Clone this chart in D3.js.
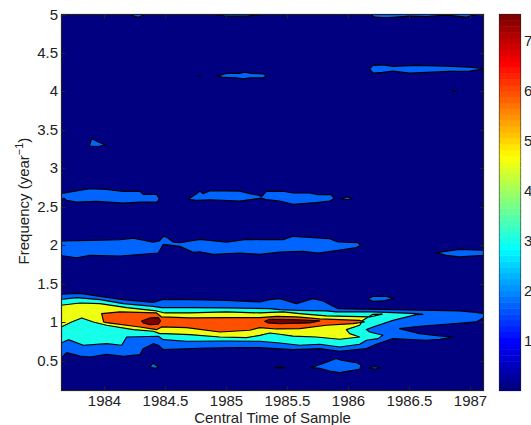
<!DOCTYPE html>
<html><head><meta charset="utf-8">
<script src="https://cdnjs.cloudflare.com/ajax/libs/d3/7.8.5/d3.min.js"></script>
<style>html,body{margin:0;padding:0;background:#fff}svg{display:block}text{font-family:"Liberation Sans",Arial,sans-serif;fill:#222}</style>
</head><body><svg id="c" width="531" height="425"></svg>
<script>
// Data: contour regions as [central time, frequency]
const xTicks=[1984,1984.5,1985,1985.5,1986,1986.5,1987];
const yTicks=[0.5,1,1.5,2,2.5,3,3.5,4,4.5,5];
const cTicks=[1,2,3,4,5,6,7];
const timeDomain=[1983.652,1987.11];
const freqDomain=[0.113,5];
const powerDomain=[0,7.51];
const contourLevels=[0,1.5,3,4.5,6,7.5];
const contourFills=["#000080","#0064ff","#15ffe9","#eeff11","#ff5000","#800000"];

const mainBand1=[[1983.64,1.363],[1983.804,1.376],[1983.967,1.337],[1984.158,1.294],[1984.404,1.259],[1984.486,1.298],[1984.704,1.294],[1985.004,1.285],[1985.222,1.268],[1985.277,1.264],[1985.358,1.294],[1985.44,1.307],[1985.577,1.242],[1985.713,1.307],[1985.795,1.277],[1985.918,1.177],[1986.368,1.164],[1986.913,1.147],[1987.05,1.129],[1987.12,1.11],[1987.12,1.07],[1987.05,1.004],[1986.804,0.974],[1986.586,0.948],[1986.422,0.917],[1986.586,0.852],[1986.75,0.822],[1986.859,0.809],[1986.75,0.779],[1986.641,0.766],[1986.368,0.787],[1986.231,0.714],[1986.15,0.657],[1985.931,0.623],[1985.768,0.657],[1985.549,0.644],[1985.277,0.67],[1985.113,0.67],[1984.84,0.666],[1984.486,0.644],[1984.445,0.701],[1984.404,0.722],[1984.322,0.657],[1984.295,0.579],[1984.158,0.558],[1984.022,0.584],[1983.886,0.549],[1983.804,0.562],[1983.694,0.605],[1983.64,0.528]];
const mainBand2=[[1983.64,1.294],[1983.776,1.32],[1983.967,1.294],[1984.158,1.242],[1984.404,1.207],[1984.472,1.19],[1984.704,1.19],[1985.004,1.186],[1985.359,1.177],[1985.44,1.164],[1985.604,1.155],[1985.822,1.147],[1985.904,1.134],[1986.204,1.134],[1986.422,1.121],[1986.559,1.112],[1986.613,1.103],[1986.559,1.099],[1986.368,1.025],[1986.204,0.939],[1986.15,0.904],[1986.177,0.874],[1986.286,0.831],[1986.245,0.787],[1986.15,0.766],[1986.095,0.714],[1985.931,0.679],[1985.768,0.714],[1985.604,0.701],[1985.44,0.731],[1985.277,0.753],[1985.004,0.757],[1984.677,0.753],[1984.486,0.774],[1984.445,0.818],[1984.186,0.809],[1984.145,0.701],[1984.022,0.722],[1983.831,0.701],[1983.708,0.774],[1983.64,0.722]];
const mainBand3=[[1983.64,1.22],[1983.804,1.25],[1983.967,1.242],[1984.186,1.19],[1984.431,1.147],[1984.499,1.121],[1984.704,1.121],[1985.004,1.134],[1985.277,1.121],[1985.468,1.134],[1985.604,1.112],[1985.822,1.082],[1986.177,1.069],[1986.28,1.106],[1986.204,1.103],[1986.122,1.025],[1986.095,0.961],[1985.986,0.904],[1986.013,0.852],[1986.095,0.809],[1985.931,0.779],[1985.74,0.809],[1985.549,0.82],[1985.44,0.844],[1985.359,0.86],[1985.277,0.83],[1985.168,0.8],[1984.949,0.809],[1984.704,0.839],[1984.499,0.852],[1984.458,0.852],[1984.404,0.883],[1984.24,0.904],[1984.022,0.961],[1983.913,1.004],[1983.817,1.056],[1983.735,1.004],[1983.64,0.93]];
const mainBand4=[[1983.981,1.112],[1984.131,1.134],[1984.431,1.121],[1984.472,1.069],[1984.704,1.056],[1985.004,1.06],[1985.277,1.06],[1985.413,1.077],[1985.577,1.069],[1985.768,1.043],[1986.095,1.025],[1986.136,1.004],[1986.04,0.982],[1985.822,0.961],[1985.604,0.917],[1985.413,0.913],[1985.277,0.93],[1985.195,0.896],[1984.949,0.874],[1984.677,0.93],[1984.472,0.939],[1984.431,0.904],[1984.295,0.939],[1984.022,0.995],[1983.997,1.004]];
const peakA=[[1984.308,1.017],[1984.377,1.056],[1984.445,1.06],[1984.464,1.017],[1984.445,0.974],[1984.377,0.969],[1984.322,0.991]];
const peakB=[[1985.317,1.012],[1985.358,1.038],[1985.549,1.034],[1985.768,1.017],[1985.686,0.991],[1985.44,0.982],[1985.345,0.991]];

const blobA=[[1983.88,3.29],[1983.899,3.385],[1983.954,3.342],[1984.008,3.307],[1983.954,3.285]];
const band26Left=[[1983.64,2.67],[1983.749,2.701],[1983.886,2.735],[1984.022,2.727],[1984.158,2.701],[1984.295,2.701],[1984.322,2.662],[1984.431,2.662],[1984.453,2.605],[1984.437,2.562],[1984.295,2.562],[1984.158,2.549],[1983.94,2.571],[1983.776,2.562],[1983.694,2.584],[1983.673,2.614],[1983.64,2.584]];
const band26Right=[[1984.69,2.597],[1984.759,2.67],[1984.786,2.705],[1984.813,2.67],[1984.868,2.709],[1985.113,2.705],[1985.195,2.67],[1985.263,2.653],[1985.29,2.631],[1985.331,2.702],[1985.468,2.702],[1985.549,2.68],[1985.686,2.68],[1985.754,2.658],[1985.863,2.658],[1985.885,2.606],[1985.849,2.576],[1985.74,2.554],[1985.549,2.533],[1985.44,2.576],[1985.331,2.593],[1985.29,2.614],[1985.113,2.575],[1984.868,2.592],[1984.759,2.584]];
const lens26=[[1985.94,2.606],[1985.991,2.628],[1986.035,2.606],[1985.991,2.593]];
const band2=[[1983.64,2.056],[1983.886,2.064],[1984.131,2.073],[1984.24,2.094],[1984.404,2.042],[1984.453,2.056],[1984.486,2.116],[1984.513,2.107],[1984.568,2.042],[1984.622,2.034],[1984.786,2.077],[1985.004,2.042],[1985.168,2.077],[1985.277,2.074],[1985.468,2.074],[1985.549,2.117],[1985.849,2.087],[1985.918,2.043],[1986.081,2.035],[1986.103,2.0],[1986.068,1.97],[1985.918,1.935],[1985.754,1.9],[1985.631,1.922],[1985.44,1.913],[1985.277,1.883],[1985.113,1.9],[1984.895,1.882],[1984.786,1.917],[1984.731,1.908],[1984.622,1.986],[1984.486,2.012],[1984.445,1.9],[1984.131,1.861],[1983.886,1.869],[1983.776,1.839],[1983.64,1.869]];
const band19Right=[[1986.722,1.905],[1986.913,1.948],[1987.12,1.935],[1987.12,1.87],[1986.913,1.849],[1986.804,1.87]];
const blob13=[[1986.163,1.298],[1986.204,1.337],[1986.314,1.337],[1986.368,1.307],[1986.286,1.277],[1986.204,1.272]];
const blob04=[[1985.7,0.411],[1985.795,0.463],[1985.904,0.528],[1985.945,0.506],[1986.068,0.476],[1986.109,0.441],[1986.095,0.389],[1985.931,0.346],[1985.85,0.367],[1985.768,0.402]];
const lens04a=[[1986.171,0.406],[1986.218,0.424],[1986.272,0.406],[1986.218,0.393]];
const lens04b=[[1985.4,0.411],[1985.44,0.419],[1985.481,0.411],[1985.44,0.402]];
const blob04c=[[1984.377,0.419],[1984.404,0.476],[1984.417,0.45],[1984.45,0.419],[1984.417,0.402]];
const band43=[[1986.177,4.294],[1986.204,4.338],[1986.286,4.346],[1986.368,4.325],[1986.559,4.338],[1986.804,4.329],[1986.995,4.316],[1987.12,4.294],[1986.995,4.264],[1986.831,4.26],[1986.504,4.238],[1986.368,4.264],[1986.286,4.247],[1986.204,4.238]];
const band42=[[1984.93,4.203],[1985.004,4.234],[1985.113,4.234],[1985.154,4.251],[1985.209,4.234],[1985.304,4.229],[1985.331,4.203],[1985.304,4.177],[1985.195,4.177],[1985.14,4.164],[1985.086,4.177],[1984.977,4.182]];
const topStripA=[[1984.186,5.01],[1984.281,4.965],[1984.349,5.01]];
const topStripB=[[1984.881,5.01],[1985.004,4.978],[1985.168,4.978],[1985.359,5.01]];
const topStripC=[[1986.177,5.01],[1986.218,4.965],[1986.314,4.957],[1986.504,4.978],[1986.641,4.974],[1986.804,4.992],[1986.968,4.965],[1987.023,4.992],[1987.099,5.01]];
const dotA=[[1984.77,4.203],[1984.78,4.212],[1984.79,4.203],[1984.78,4.194]];
const dotB=[[1986.853,4.004],[1986.87,4.01],[1986.886,4.004],[1986.87,3.998]];

const layers=[
 [1.5,[mainBand1,blobA,band26Left,band26Right,lens26,band2,band19Right,blob13,blob04,lens04a,lens04b,blob04c,band43,band42,topStripA,topStripB,topStripC,dotA,dotB]],
 [3,[mainBand2]],[4.5,[mainBand3]],[6,[mainBand4]],[7.5,[peakA,peakB]]
];

const plot={l:61.5,r:483.5,t:14.5,b:390.5};
const bar={l:499.5,r:520.5};
const x=d3.scaleLinear().domain(timeDomain).range([plot.l,plot.r]);
const y=d3.scaleLinear().domain(freqDomain).range([plot.b,plot.t]);
const cy=d3.scaleLinear().domain(powerDomain).range([plot.b,plot.t]);
const fillOf=d3.scaleOrdinal().domain(contourLevels).range(contourFills);
const jet=d3.scaleLinear()
 .domain([0,0.125,0.375,0.625,0.875,1].map(t=>t*powerDomain[1]))
 .range(["#000080","#0000ff","#00ffff","#ffff00","#ff0000","#800000"])
 .clamp(true);

const svg=d3.select("#c");
svg.append("defs").append("clipPath").attr("id","pc").append("rect")
 .attr("x",plot.l).attr("y",plot.t).attr("width",plot.r-plot.l).attr("height",plot.b-plot.t);
const g=svg.append("g").attr("clip-path","url(#pc)");
g.append("rect").attr("x",plot.l).attr("y",plot.t).attr("width",plot.r-plot.l).attr("height",plot.b-plot.t).attr("fill",fillOf(0));
const line=d3.line().x(d=>x(d[0])).y(d=>y(d[1])).curve(d3.curveLinearClosed);
layers.forEach(([lv,regions])=>{
 g.selectAll(null).data(regions).join("path").attr("d",line)
  .attr("fill",fillOf(lv)).attr("stroke","#000").attr("stroke-width",1.15).attr("stroke-linejoin","round");
});

// main axes
const fs=15;
const ax=svg.append("g");
function frame(l,r,t,b){ax.append("rect").attr("x",l).attr("y",t).attr("width",r-l).attr("height",b-t).attr("fill","none").attr("stroke","#222").attr("stroke-width",1.2);}
frame(plot.l,plot.r,plot.t,plot.b);
const tickLen=4;
function tick(x1,y1,x2,y2){ax.append("line").attr("x1",x1).attr("y1",y1).attr("x2",x2).attr("y2",y2).attr("stroke","#222").attr("stroke-width",1);}
xTicks.forEach(v=>{const p=Math.round(x(v))+.5;tick(p,plot.b,p,plot.b-tickLen);tick(p,plot.t,p,plot.t+tickLen);
 ax.append("text").attr("x",p).attr("y",406).attr("text-anchor","middle").attr("font-size",fs).text(v);});
yTicks.forEach(v=>{const p=Math.round(y(v))+.5;tick(plot.l,p,plot.l+tickLen,p);tick(plot.r,p,plot.r-tickLen,p);
 ax.append("text").attr("x",58).attr("y",p+4.5).attr("text-anchor","end").attr("font-size",fs).text(v);});
ax.append("text").attr("x",272.5).attr("y",423).attr("text-anchor","middle").attr("font-size",fs).text("Central Time of Sample");
const yl=ax.append("text").attr("transform","translate(29,201) rotate(-90)").attr("text-anchor","middle").attr("font-size",fs);
yl.append("tspan").text("Frequency (year");
yl.append("tspan").attr("dy",-6).attr("font-size",11).text("−1");
yl.append("tspan").attr("dy",6).text(")");

// colour bar
const steps=d3.range(64);
const bandH=(plot.b-plot.t)/64;
svg.append("g").selectAll("rect").data(steps).join("rect")
 .attr("x",bar.l).attr("width",bar.r-bar.l)
 .attr("y",i=>cy((i+1)/64*powerDomain[1])).attr("height",bandH+.5)
 .attr("fill",i=>jet(i/63*powerDomain[1]));
frame(bar.l,bar.r,plot.t,plot.b);
cTicks.forEach(v=>{const p=Math.round(cy(v))+.5;tick(bar.l,p,bar.l+4,p);tick(bar.r,p,bar.r-4,p);
 ax.append("text").attr("x",524).attr("y",p+5).attr("font-size",fs).text(v);});
</script></body></html>
